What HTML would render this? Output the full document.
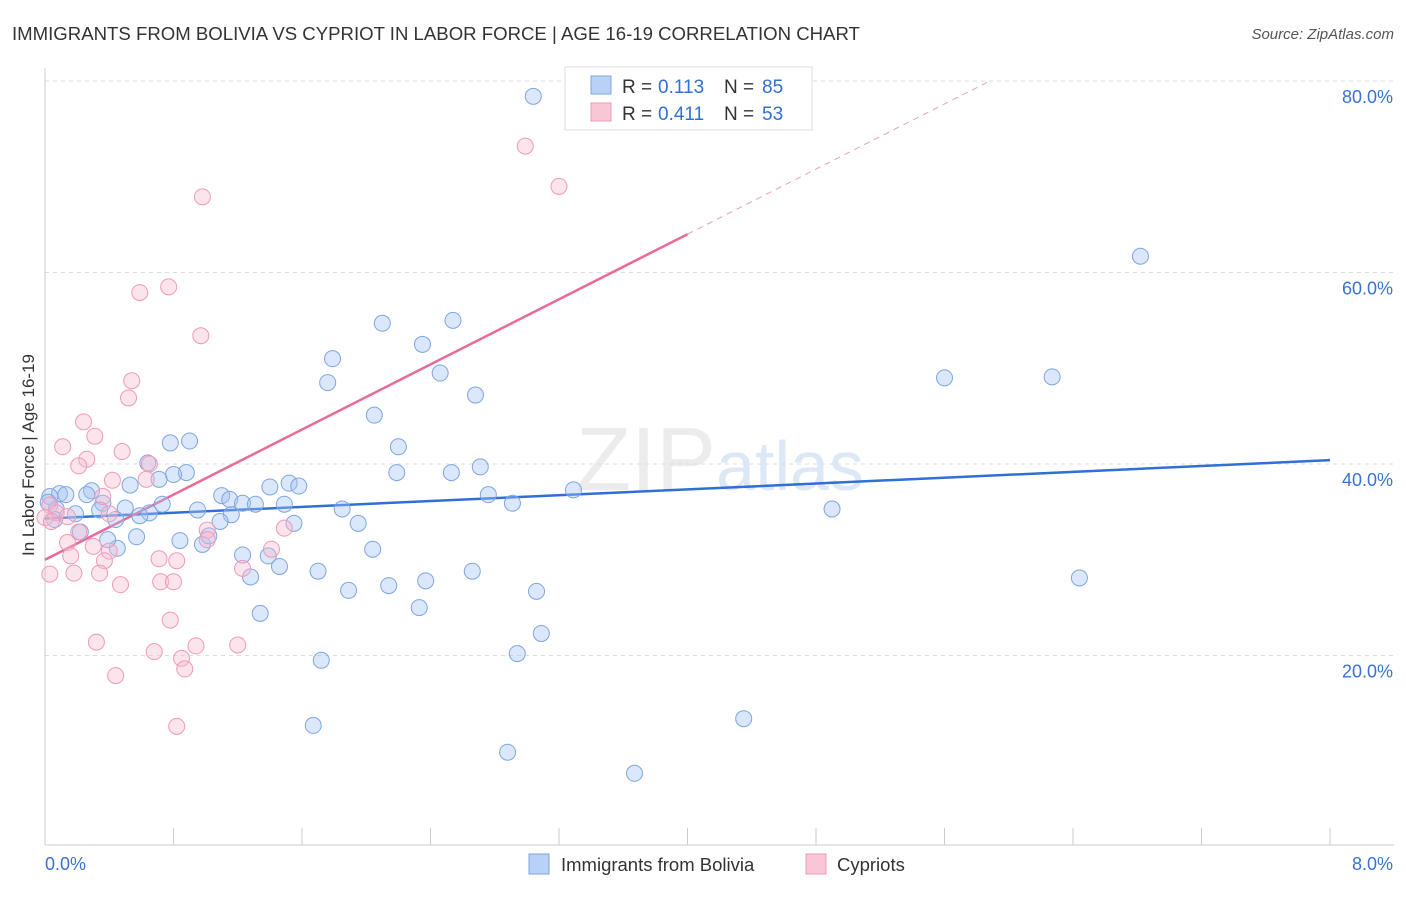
<!DOCTYPE html>
<html><head><meta charset="utf-8"><style>
body{margin:0;background:#fff;font-family:"Liberation Sans",sans-serif;}
svg text{font-family:"Liberation Sans",sans-serif;}
</style></head><body>
<svg id="chart" width="1406" height="892" xmlns="http://www.w3.org/2000/svg">
<text x="12" y="40" font-size="18.6" fill="#333">IMMIGRANTS FROM BOLIVIA VS CYPRIOT IN LABOR FORCE | AGE 16-19 CORRELATION CHART</text>
<text x="1394" y="39" font-size="15" fill="#555" font-style="italic" text-anchor="end">Source: ZipAtlas.com</text>
<text x="720" y="490" font-size="90" fill="#ececec" text-anchor="middle" font-family="Liberation Serif">ZIP<tspan fill="#dde8f6" font-family="Liberation Sans" font-size="70">atlas</tspan></text>
<g id="grid"></g><g id="axes"></g><g id="lines"></g><g id="points"></g>
<text transform="translate(34,455) rotate(-90)" font-size="17" fill="#333" text-anchor="middle">In Labor Force | Age 16-19</text>
<g>
<rect x="565" y="67" width="247" height="63" fill="#fff" stroke="#ddd"/>
<rect x="591" y="76" width="20" height="18" fill="#b9d1f5" stroke="#7ea6e0"/>
<rect x="591" y="103" width="20" height="18" fill="#f9c6d6" stroke="#f09ab8"/>
<text x="622" y="93" font-size="19" fill="#333">R =</text>
<text x="658" y="93" font-size="19" fill="#2f6fd6">0.113</text>
<text x="724" y="93" font-size="19" fill="#333">N =</text>
<text x="762" y="93" font-size="19" fill="#2f6fd6">85</text>
<text x="622" y="120" font-size="19" fill="#333">R =</text>
<text x="658" y="120" font-size="19" fill="#2f6fd6">0.411</text>
<text x="724" y="120" font-size="19" fill="#333">N =</text>
<text x="762" y="120" font-size="19" fill="#2f6fd6">53</text>
</g>
<g>
<rect x="529" y="854" width="20" height="20" fill="#b9d1f5" stroke="#7ea6e0"/>
<text x="561" y="871" font-size="18.5" fill="#333">Immigrants from Bolivia</text>
<rect x="806" y="854" width="20" height="20" fill="#f9c6d6" stroke="#f09ab8"/>
<text x="837" y="871" font-size="18.5" fill="#333">Cypriots</text>
</g>
</svg>
<script>
const blueX=[3.04,6.82,2.10,2.54,2.35,1.79,2.46,1.76,2.68,5.60,6.27,2.05,2.20,0.90,0.78,0.64,0.88,0.80,0.71,0.53,0.29,0.09,0.03,0.13,0.26,0.36,0.50,0.73,1.10,1.15,1.23,1.31,0.95,1.40,1.52,1.58,1.49,1.16,1.85,1.95,1.55,1.09,0.65,0.59,0.44,0.34,0.19,0.07,0.06,0.02,0.22,0.57,0.84,0.98,1.02,0.45,0.39,1.23,1.39,1.46,1.28,1.70,2.04,2.19,2.53,2.71,2.76,2.91,3.29,4.90,6.44,2.66,2.37,2.14,1.89,3.06,2.33,1.34,3.09,2.94,1.72,4.35,1.67,2.88,3.67];
const blueY=[78.4,61.7,54.7,55.0,52.5,51.0,49.5,48.5,47.2,49.0,49.1,45.1,41.8,42.4,42.2,40.1,39.1,38.9,38.4,37.8,37.2,36.9,36.6,36.8,36.8,35.9,35.4,35.8,36.7,36.3,35.9,35.8,35.2,37.6,38.0,37.7,35.8,34.7,35.3,33.8,33.8,34.0,34.9,34.6,34.2,35.2,34.8,35.3,34.2,36.0,32.9,32.4,32.0,31.6,32.5,31.2,32.1,30.5,30.4,29.3,28.2,28.8,31.1,39.1,39.1,39.7,36.8,35.9,37.3,35.3,28.1,28.8,27.8,27.3,26.8,26.7,25.0,24.4,22.3,20.2,19.5,13.4,12.7,9.9,7.7];
const pinkX=[2.99,3.20,0.98,0.77,0.59,0.97,0.54,0.52,0.24,0.31,0.11,0.48,0.26,0.21,0.42,0.65,0.63,0.36,0.03,0.07,0.40,0.00,0.14,0.04,0.21,1.01,1.01,1.49,0.14,0.30,1.41,0.40,0.16,0.71,0.82,0.37,1.23,0.18,0.34,0.03,0.47,0.72,0.80,0.78,0.32,0.94,1.20,0.68,0.85,0.87,0.44,0.82];
const pinkY=[73.2,69.0,67.9,58.5,57.9,53.4,48.7,46.9,44.4,42.9,41.8,41.3,40.5,39.8,38.3,40.0,38.4,36.6,35.7,34.9,34.8,34.4,34.5,34.0,32.9,33.1,32.1,33.3,31.8,31.4,31.1,30.9,30.4,30.1,29.9,29.9,29.1,28.6,28.6,28.5,27.4,27.7,27.7,23.7,21.4,21.0,21.1,20.4,19.7,18.6,17.9,12.6];
const blueTrend=[34.3,40.4];
const pinkTrend=[30.0,64.0];
const yTicks=[20,40,60,80];
const xTickVals=[0,0.8,1.6,2.4,3.2,4.0,4.8,5.6,6.4,7.2,8.0];
const NS="http://www.w3.org/2000/svg";
const X=v=>45+v/8*1285, Y=v=>847-v*9.575;
function mk(tag,attrs,parent){const e=document.createElementNS(NS,tag);for(const k in attrs)e.setAttribute(k,attrs[k]);document.getElementById(parent).appendChild(e);return e;}
yTicks.forEach(t=>{
 const g=mk('line',{x1:45,x2:1394,y1:Y(t),y2:Y(t),stroke:'#ddd','stroke-dasharray':'4,4'},'grid');
 
 
 const tx=mk('text',{x:1393,y:Y(t)+22,'font-size':18,fill:'#3a72d0','text-anchor':'end'},'axes');
 tx.textContent=t.toFixed(1)+'%';
 
 
});
const ax=mk('line',{x1:45,x2:45,y1:68,y2:845,stroke:'#ccc'},'axes');


const bx=mk('line',{x1:45,x2:1394,y1:845,y2:845,stroke:'#ccc'},'axes');


xTickVals.forEach(t=>{
 const l=mk('line',{x1:X(t),x2:X(t),y1:828,y2:845,stroke:'#ccc'},'axes');
 
 
});
[[0,'start'],[8,'end']].forEach(([t,a])=>{
 const tx=mk('text',{x:t===0?45:1393,y:870,'font-size':18,fill:'#3a72d0','text-anchor':a},'axes');
 tx.textContent=t.toFixed(1)+'%';
 
 
});
function drawPts(xs,ys,fill,stroke,name){xs.forEach((x,i)=>{
 const c=mk('circle',{cx:X(x),cy:Y(ys[i]),r:8,fill:fill,stroke:stroke,'stroke-width':1},'points');
 
 
});}
drawPts(blueX,blueY,'rgba(164,194,244,0.4)','#7ea6e0','bolivia-point');
drawPts(pinkX,pinkY,'rgba(248,187,208,0.4)','#f09ab8','cypriot-point');
const bl=mk('line',{x1:X(0),y1:Y(blueTrend[0]),x2:X(8),y2:Y(blueTrend[1]),stroke:'#2f6fd6','stroke-width':2.5},'lines');


const slope=(pinkTrend[1]-pinkTrend[0])/4;
const pl=mk('line',{x1:X(0),y1:Y(pinkTrend[0]),x2:X(4),y2:Y(pinkTrend[1]),stroke:'#e8699a','stroke-width':2.5},'lines');


const xe=(80-pinkTrend[0])/slope;
const pd=mk('line',{x1:X(4),y1:Y(pinkTrend[1]),x2:X(xe),y2:Y(80),stroke:'#e8a0ba','stroke-width':1,'stroke-dasharray':'6,5'},'lines');


</script>
</body></html>
